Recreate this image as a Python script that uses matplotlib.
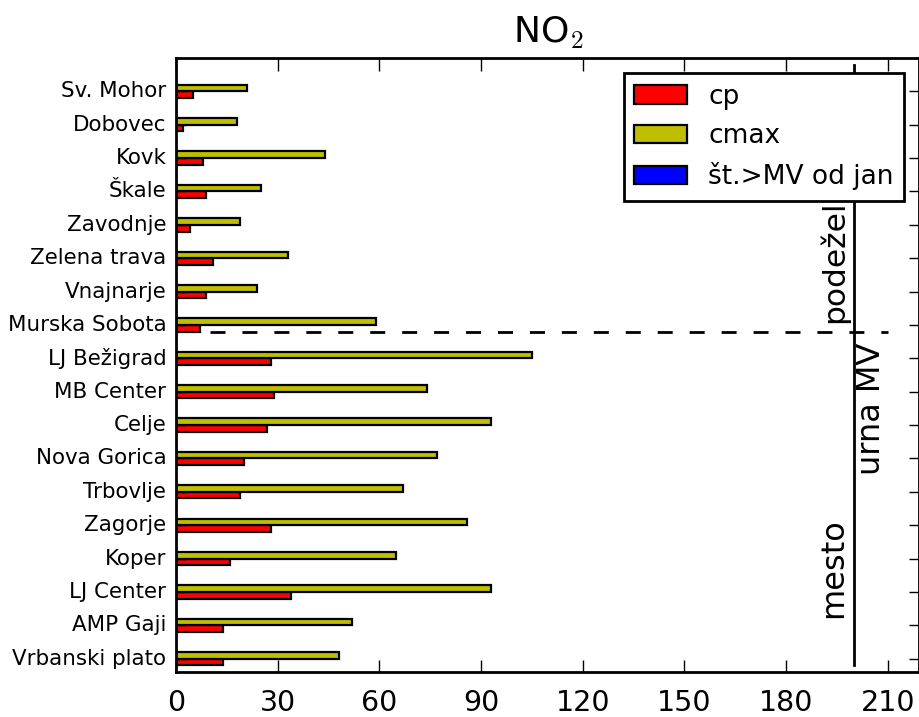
import numpy as np
import matplotlib
matplotlib.use("Agg")
import matplotlib.pyplot as plt

plt.style.use("classic")
plt.rcParams["lines.scale_dashes"] = False

# ---- data (top to bottom as shown) ----
stations = ["Sv. Mohor", "Dobovec", "Kovk", "Škale", "Zavodnje", "Zelena trava",
            "Vnajnarje", "Murska Sobota", "LJ Bežigrad", "MB Center", "Celje",
            "Nova Gorica", "Trbovlje", "Zagorje", "Koper", "LJ Center",
            "AMP Gaji", "Vrbanski plato"]
cp = [5, 2, 8, 9, 4, 11, 9, 7, 28, 29, 27, 20, 19, 28, 16, 34, 14, 14]
cmax = [21, 18, 44, 25, 19, 33, 24, 59, 105, 74, 93, 77, 67, 86, 65, 93, 52, 48]
exceed = [0] * 18
limit_value = 200
xticks = [0, 30, 60, 90, 120, 150, 180, 210]

# reverse so first station is at top
stations_r = stations[::-1]
cp_r = cp[::-1]
cmax_r = cmax[::-1]
exceed_r = exceed[::-1]
ypos = np.arange(len(stations_r))

fig = plt.figure(figsize=(9.2, 7.17), dpi=100, facecolor="white")
ax = fig.add_axes([176 / 920, 1 - 672 / 717, (919.5 - 176) / 920, (672 - 58) / 717])
ax.set_facecolor("white")

h = 0.2
ax.barh(ypos - 0.1, cp_r, height=h, color="#ff0000", edgecolor="black", lw=1.6, label="cp", zorder=2)
ax.barh(ypos + 0.1, cmax_r, height=h, color="#bfbf00", edgecolor="black", lw=1.6, label="cmax", zorder=2)
ax.barh(ypos + 0.3, exceed_r, height=h, color="#0000ff", edgecolor="black", lw=1.6,
        label="št.>MV od jan", zorder=2)

ax.set_xlim(0, 219.4)
ax.set_ylim(-0.4, 18.0)

# limit lines
ax.plot([limit_value, limit_value], [-0.2, 17.8], color="black", lw=2, zorder=3)
ax.plot([10, 210], [9.8, 9.8], color="black", lw=2, dashes=(10.8, 12.2), zorder=3)

ax.text(198.6, 10.05, "podežel", rotation=90, ha="right", va="bottom", fontsize=22.5, zorder=3)
ax.text(198.6, 1.23, "mesto", rotation=90, ha="right", va="bottom", fontsize=23, zorder=3)
ax.text(200.6, 7.5, "urna MV", rotation=90, ha="left", va="center", fontsize=23, zorder=3)

ax.set_yticks(ypos)
ax.set_yticklabels(stations_r, fontsize=15.4)
ax.set_xticks(xticks)
ax.set_xticklabels([str(t) for t in xticks], fontsize=20.5)
ax.tick_params(axis="x", direction="in", length=9, width=1, pad=12, top=True, bottom=True)
ax.tick_params(axis="y", direction="in", length=7, width=1, pad=7, left=True, right=True)
for s in ax.spines.values():
    s.set_linewidth(2)

ax.set_title("NO$_2$", fontsize=26, pad=11)

leg = ax.legend(loc="upper right", fontsize=19, borderaxespad=0.58, handlelength=2,
                handletextpad=0.8, labelspacing=0.5, borderpad=0.4,
                fancybox=False, shadow=False)
leg.get_frame().set_linewidth(2)
leg.get_frame().set_edgecolor("black")
leg.set_zorder(10)

fig.savefig("out.png", dpi=100, facecolor="white")
